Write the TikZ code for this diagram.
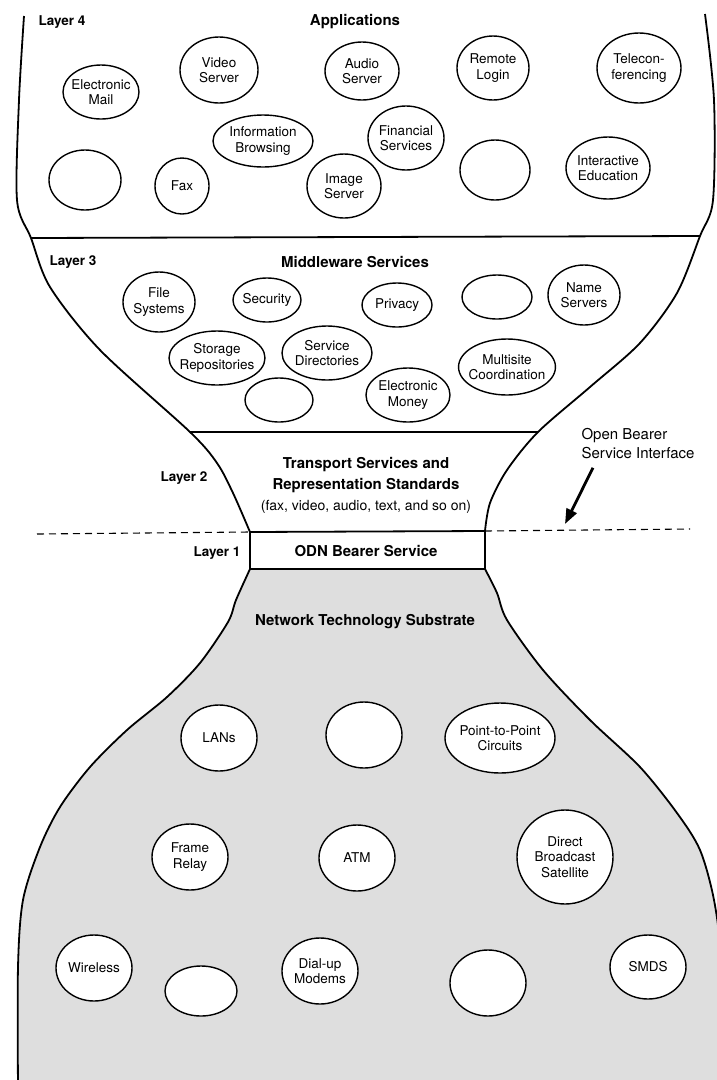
\documentclass[tikz,border=0pt]{standalone}
\usepackage{fontspec}
\setmainfont{TeX Gyre Heros}
\usetikzlibrary{shapes.geometric, arrows.meta}
\tikzset{service/.style = {ellipse, draw, line width=1.4pt, inner xsep=-4pt, inner ysep=0pt, align=center, font=\fontsize{13.5}{15.5}\selectfont}}
\tikzset{tech/.style = {service, fill=white}}
\tikzset{esize/.style 2 args = {minimum width=#1pt, minimum height=#2pt}}
\tikzset{layerlabel/.style = {font=\bfseries\fontsize{13.5}{16}\selectfont}}
\tikzset{layertitle/.style = {font=\bfseries\fontsize{15}{21}\selectfont, align=center}}
\tikzset{outline/.style = {line width=1.8pt, line join=round}}

\begin{document}
\begin{tikzpicture}[x=1pt, y=-1pt]
      \useasboundingbox (0,0) rectangle (717,1080);
      % junction points of the hourglass
      \coordinate (l43) at (31,238);   \coordinate (r43) at (700,236);
      \coordinate (l32) at (190,432);  \coordinate (r32) at (538,432);
      \coordinate (lodnT) at (250,532); \coordinate (rodnT) at (485,531);
      \coordinate (lodnB) at (250,569); \coordinate (rodnB) at (485,569);
      \coordinate (dashL) at (37,534);  \coordinate (dashR) at (690,529);
      % substrate (shaded)
      \filldraw [outline, fill=black!13] plot [smooth] coordinates{(lodnB) (236,600) (228,622) (200,663) (167,697) (127,730) (90,767) (60,807) (40,847) (23,900) (18,967) (18,1090)}
            -- plot [smooth] coordinates{(724,1090) (721,960) (714,900) (700,850) (677,813) (640,767) (590,720) (543,670) (507,620) (497,593) (rodnB)} -- cycle;
      % upper walls
      \draw [outline] plot [smooth] coordinates{(24,16) (19,100) (17,200) (l43) (50,287) (100,350) (l32) (217,463) (233,493) (lodnT)} -- (lodnB);
      \draw [outline] plot [smooth] coordinates{(705,14) (714,100) (713,200) (r43) (677,293) (640,343) (590,387) (r32) (507,470) (490,503) (rodnT)} -- (rodnB);
      \draw [outline] (l43) -- (r43);
      \draw [outline] (l32) -- (r32);
      \draw [outline] (lodnT) -- (rodnT);
      \draw [line width=1.1pt, dash pattern=on 7pt off 5pt] (dashL) -- (lodnT);
      \draw [line width=1.1pt, dash pattern=on 7pt off 5pt] (rodnT) -- (dashR);

      % layer 4
      \node [layerlabel] (lay4) at (62,22) {Layer 4};
      \node [layertitle] (apps) at (355,22) {Applications};
      \node [service, esize={76}{54}] (email) at (101,92) {Electronic\\Mail};
      \node [service, esize={78}{66}] (video) at (219,70) {Video\\Server};
      \node [service, esize={74}{58}] (audio) at (362,71) {Audio\\Server};
      \node [service, esize={72}{64}] (remote) at (493,68) {Remote\\Login};
      \node [service, esize={84}{70}] (telecon) at (639,68) {Telecon-\\ferencing};
      \node [service, esize={100}{52}] (browse) at (263,141) {Information\\Browsing};
      \node [service, esize={76}{64}] (finance) at (406,138) {Financial\\Services};
      \node [service, esize={74}{64}] (image) at (344,186) {Image\\Server};
      \node [service, esize={72}{60}] (appA) at (85,180) {};
      \node [service, esize={54}{56}] (fax) at (182,186) {Fax};
      \node [service, esize={70}{60}] (appB) at (495,170) {};
      \node [service, esize={84}{62}] (educ) at (608,168) {Interactive\\Education};

      % layer 3
      \node [layerlabel] (lay3) at (73,262) {Layer 3};
      \node [layertitle] (middle) at (355,262) {Middleware Services};
      \node [service, esize={72}{60}] (files) at (159,302) {File\\Systems};
      \node [service, esize={68}{44}] (secur) at (267,300) {Security};
      \node [service, esize={70}{44}] (privacy) at (397,305) {Privacy};
      \node [service, esize={70}{44}] (midA) at (497,297) {};
      \node [service, esize={72}{60}] (names) at (584,295) {Name\\Servers};
      \node [service, esize={96}{54}] (storage) at (217,358) {Storage\\Repositories};
      \node [service, esize={90}{54}] (direct) at (327,353) {Service\\Directories};
      \node [service, esize={68}{44}] (midB) at (279,400) {};
      \node [service, esize={84}{54}] (money) at (408,395) {Electronic\\Money};
      \node [service, esize={96}{56}] (multi) at (507,367) {Multisite\\Coordination};

      % layer 2 and layer 1
      \node [layerlabel] (lay2) at (184,478) {Layer 2};
      \node [layertitle] (transport) at (366,485) {Transport Services and\\Representation Standards\\{\mdseries\fontsize{14}{21}\selectfont(fax, video, audio, text, and so on)}};
      \node [layerlabel] (lay1) at (217,553) {Layer 1};
      \node [layertitle] (odn) at (366,551) {ODN Bearer Service};
      \node [layertitle] (substrate) at (365,622) {Network Technology Substrate};
      \node [align=left, anchor=west, font=\fontsize{15}{19}\selectfont] (obsi) at (578,444) {Open Bearer\\Service Interface};
      \coordinate (obsitip) at (565,524);
      \draw [line width=2.8pt, -{Triangle[length=15pt, width=11pt]}] ([xshift=15pt, yshift=-5pt]obsi.south west) -- (obsitip);

      % technologies
      \node [tech, esize={76}{66}] (lans) at (219,738) {LANs};
      \node [tech, esize={76}{66}] (techA) at (364,735) {};
      \node [tech, esize={110}{70}] (p2p) at (500,738) {Point-to-Point\\Circuits};
      \node [tech, esize={76}{66}] (frame) at (190,857) {Frame\\Relay};
      \node [tech, esize={76}{66}] (atm) at (357,858) {ATM};
      \node [tech, esize={96}{94}] (dbs) at (565,857) {Direct\\Broadcast\\Satellite};
      \node [tech, esize={76}{66}] (wireless) at (94,968) {Wireless};
      \node [tech, esize={72}{50}] (techB) at (201,991) {};
      \node [tech, esize={76}{66}] (dialup) at (320,971) {Dial-up\\Modems};
      \node [tech, esize={76}{66}] (techC) at (488,983) {};
      \node [tech, esize={76}{64}] (smds) at (648,967) {SMDS};
    \end{tikzpicture}
\end{document}
